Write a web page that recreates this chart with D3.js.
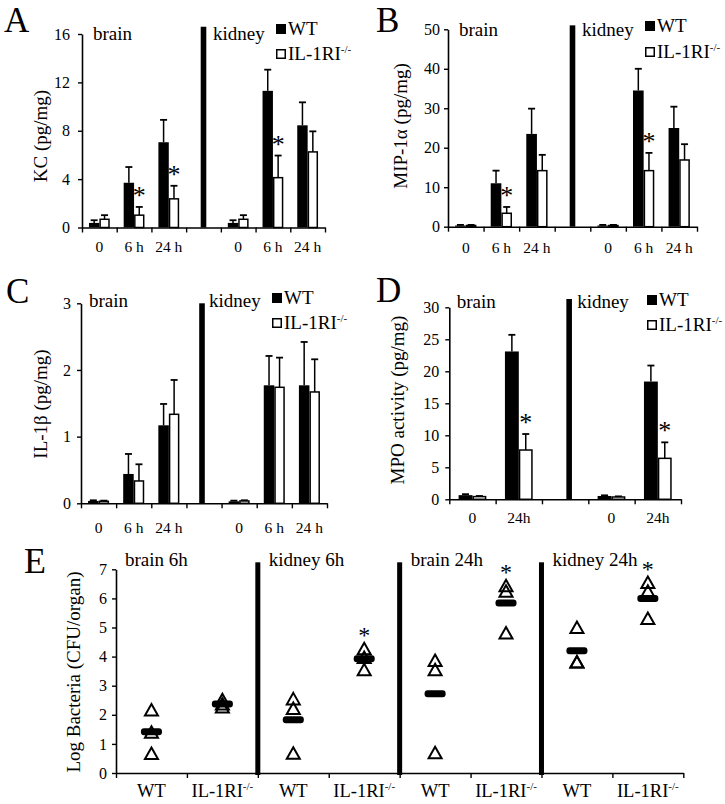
<!DOCTYPE html>
<html><head><meta charset="utf-8">
<script src="https://cdn.jsdelivr.net/npm/d3@7"></script>
<style>
body{margin:0;background:#fff;}
svg, svg text, svg tspan{font-family:"Liberation Serif","Times New Roman",Tinos,"DejaVu Serif",serif !important;}
svg text{fill:#000;}
</style></head><body>
<svg id="chart" width="725" height="804" font-family="Liberation Serif, Times New Roman, serif"></svg>
<script>
// ---------- DATA ----------
const organs = ["brain", "kidney"];
const timesABC = ["0", "6 h", "24 h"];
const timesD = ["0", "24h"];
const legendLabels = ["WT", "IL-1RI"];
const koSup = "-/-";

// Panel A: KC (pg/mg)  order: brain 0, 6h, 24h, kidney 0, 6h, 24h
const kcWT     = [0.38, 3.7, 7.05, 0.38, 11.3, 8.45];
const kcWTerr  = [0.6, 5.0, 8.9, 0.6, 13.05, 10.35];
const kcKO     = [0.68, 1.02, 2.37, 0.68, 4.12, 6.25];
const kcKOerr  = [1.02, 1.7, 3.45, 1.02, 5.95, 7.95];
const kcStar   = [false, true, true, false, true, false];
const kcTicks  = [0, 4, 8, 12, 16];
const kcDivider = 16.6;

// Panel B: MIP-1α (pg/mg)
const mipWT    = [0.3, 11.0, 23.5, 0.3, 34.5, 25.0];
const mipWTerr = [0.45, 14.2, 29.9, 0.45, 40.0, 30.4];
const mipKO    = [0.3, 3.4, 14.2, 0.3, 14.2, 16.9];
const mipKOerr = [0.45, 5.0, 18.2, 0.45, 18.7, 20.9];
const mipStar  = [false, true, false, false, true, false];
const mipTicks = [0, 10, 20, 30, 40, 50];
const mipDivider = 51;

// Panel C: IL-1β (pg/mg)
const ilWT     = [0.035, 0.44, 1.17, 0.03, 1.77, 1.77];
const ilWTerr  = [0.045, 0.74, 1.49, 0.04, 2.21, 2.42];
const ilKO     = [0.03, 0.335, 1.335, 0.035, 1.74, 1.67];
const ilKOerr  = [0.04, 0.585, 1.85, 0.045, 2.185, 2.16];
const ilStar   = [false, false, false, false, false, false];
const ilTicks  = [0, 1, 2, 3];
const ilDivider = 3.0;

// Panel D: MPO activity (pg/mg)  order: brain 0, 24h, kidney 0, 24h
const mpoWT    = [0.65, 23.1, 0.52, 18.4];
const mpoWTerr = [0.8, 25.7, 0.62, 20.9];
const mpoKO    = [0.42, 7.7, 0.36, 6.4];
const mpoKOerr = [0.52, 10.2, 0.46, 8.9];
const mpoStar  = [false, true, false, true];
const mpoTicks = [0, 5, 10, 15, 20, 25, 30];
const mpoDivider = 31.3;

// Panel E: Log bacteria (CFU/organ)
const eGroups = ["brain 6h", "kidney 6h", "brain 24h", "kidney 24h"];
const eGenotypes = ["WT", "IL-1RI"];
const ePoints = [
  [2.15, 1.38, 0.65], [2.5, 2.35, 2.25],
  [2.53, 2.2, 0.66],  [4.25, 3.95, 3.53],
  [3.85, 3.53, 0.68], [6.42, 6.23, 4.79],
  [4.98, 3.8, 3.8],   [6.53, 6.23, 5.29]
];
const eMeans = [1.42, 2.37, 1.83, 3.93, 2.72, 5.84, 4.2, 6.0];
const eStar  = [false, false, false, true, false, true, false, true];
const eTicks = [0, 1, 2, 3, 4, 5, 6, 7];
const eDivider = 7.24;

// ---------- DRAWING ----------
const FONT = "Liberation Serif, Times New Roman, serif";
const svg = d3.select("#chart");

function txt(g) { return g.append("text").attr("font-family", FONT).attr("fill", "#000"); }

function koText(sel, size, supSize) {
  sel.append("tspan").text(legendLabels[1]);
  sel.append("tspan").attr("font-size", supSize).attr("dy", -size * 0.38).text(koSup);
}

function yAxis(g, y, x0, ticks, pad, fs) {
  const ax = g.append("g").attr("transform", `translate(${x0},0)`)
    .call(d3.axisLeft(y).tickValues(ticks).tickFormat(d3.format("d")).tickSize(4).tickSizeOuter(0).tickPadding(pad));
  ax.attr("font-family", FONT);
  ax.select(".domain").attr("stroke", "#000").attr("stroke-width", 1.6);
  ax.selectAll(".tick line").attr("stroke", "#000").attr("stroke-width", 1.4);
  ax.selectAll("text").attr("font-size", fs).attr("font-family", FONT).attr("fill", "#000");
}

function xAxis(g, n, x0, x1, yb) {
  const lin = d3.scaleLinear().domain([0, n]).range([x0, x1]);
  const ax = g.append("g").attr("transform", `translate(0,${yb})`)
    .call(d3.axisBottom(lin).tickValues(d3.range(n + 1)).tickFormat("").tickSize(5).tickSizeOuter(0));
  ax.select(".domain").attr("stroke", "#000").attr("stroke-width", 1.6);
  ax.selectAll(".tick line").attr("stroke", "#000").attr("stroke-width", 1.4);
  return lin;
}

function legend(g, lx, ly1, ly2) {
  g.append("rect").attr("x", lx).attr("y", ly1 - 11).attr("width", 10).attr("height", 10).attr("fill", "#000");
  txt(g).attr("x", lx + 12).attr("y", ly1).attr("font-size", 19).text(legendLabels[0]);
  g.append("rect").attr("x", lx + 0.75).attr("y", ly2 - 10.25).attr("width", 8.5).attr("height", 8.5)
    .attr("fill", "#fff").attr("stroke", "#000").attr("stroke-width", 1.5);
  const t = txt(g).attr("x", lx + 12).attr("y", ly2).attr("font-size", 19);
  koText(t, 19, 11);
}

function barPanel(p) {
  const g = svg.append("g");
  const n = p.times.length * 2 + 1;
  const sepIdx = p.times.length;
  const cats = d3.range(n);
  const x = d3.scaleBand().domain(cats).range([p.x0, p.x1]).padding(0);
  const inner = d3.scaleBand().domain(["WT", "KO"]).range([0, x.bandwidth()]).paddingInner(0).paddingOuter(0.67);
  const y = d3.scaleLinear().domain([0, p.ticks[p.ticks.length - 1]]).range([p.yb, p.yt]);

  const rows = [];
  p.wt.forEach((v, i) => {
    const c = i < sepIdx ? i : i + 1;
    rows.push({c, g: "WT", v, e: p.wtErr[i], star: false});
    rows.push({c, g: "KO", v: p.ko[i], e: p.koErr[i], star: p.star[i]});
  });

  const cap = 7;
  rows.forEach(r => {
    const cx = x(r.c) + inner(r.g) + inner.bandwidth() / 2;
    g.append("line").attr("x1", cx).attr("x2", cx).attr("y1", y(r.v)).attr("y2", y(r.e))
      .attr("stroke", "#000").attr("stroke-width", 1.5);
    g.append("line").attr("x1", cx - cap / 2).attr("x2", cx + cap / 2).attr("y1", y(r.e)).attr("y2", y(r.e))
      .attr("stroke", "#000").attr("stroke-width", 1.8);
  });
  g.selectAll("rect.bar").data(rows).join("rect").attr("class", "bar")
    .attr("x", d => x(d.c) + inner(d.g) + (d.g === "KO" ? 0.75 : 0))
    .attr("width", d => inner.bandwidth() - (d.g === "KO" ? 1.5 : 0))
    .attr("y", d => y(d.v))
    .attr("height", d => y(0) - y(d.v))
    .attr("fill", d => d.g === "WT" ? "#000" : "#fff")
    .attr("stroke", "#000").attr("stroke-width", d => d.g === "KO" ? 1.5 : 0);
  rows.filter(r => r.star).forEach(r => {
    const cx = x(r.c) + inner(r.g) + inner.bandwidth() / 2;
    txt(g).attr("x", cx).attr("y", y(r.e) - 3).attr("text-anchor", "middle")
      .attr("font-size", 26).text("*");
  });
  const sx = x(sepIdx) + x.bandwidth() / 2 + (p.sepShift || 0);
  g.append("rect").attr("x", sx - 2.8).attr("width", 5.6).attr("y", y(p.divider)).attr("height", y(0) - y(p.divider))
    .attr("fill", "#000");

  yAxis(g, y, p.x0, p.ticks, p.tickPad, 16);
  xAxis(g, n, p.x0, p.x1, p.yb);

  cats.filter(c => c !== sepIdx).forEach(c => {
    const ti = c < sepIdx ? c : c - sepIdx - 1;
    txt(g).attr("x", x(c) + x.bandwidth() / 2).attr("y", p.labelY)
      .attr("text-anchor", "middle").attr("font-size", 15.5).text(p.times[ti]);
  });
  txt(g).attr("x", p.x0 + p.brainDx).attr("y", p.groupY).attr("font-size", 19).text(organs[0]);
  txt(g).attr("x", sx + p.kidneyDx).attr("y", p.groupY).attr("font-size", 19).text(organs[1]);
  legend(g, p.lx, p.ly1, p.ly2);
  txt(g).attr("transform", `translate(${p.tx},${p.ty}) rotate(-90)`)
    .attr("text-anchor", "middle").attr("dominant-baseline", "central").attr("font-size", 19).text(p.title);
  txt(g).attr("x", p.Lx).attr("y", p.Ly).attr("font-size", 35).text(p.letter);
}

barPanel({letter: "A", Lx: 4, Ly: 32, title: "KC (pg/mg)", tx: 40, ty: 136,
  times: timesABC, wt: kcWT, wtErr: kcWTerr, ko: kcKO, koErr: kcKOerr, star: kcStar,
  ticks: kcTicks, divider: kcDivider, x0: 82, x1: 325, yb: 227.5, yt: 34, tickPad: 8,
  labelY: 252, groupY: 40, brainDx: 11, kidneyDx: 9.5, lx: 276, ly1: 35, ly2: 60});

barPanel({letter: "B", Lx: 376, Ly: 32, title: "MIP-1α (pg/mg)", tx: 400, ty: 126,
  times: timesABC, wt: mipWT, wtErr: mipWTerr, ko: mipKO, koErr: mipKOerr, star: mipStar,
  ticks: mipTicks, divider: mipDivider, x0: 448, x1: 697, yb: 226.7, yt: 29.3, tickPad: 4,
  labelY: 253, groupY: 36, brainDx: 11, kidneyDx: 9.5, lx: 645, ly1: 32, ly2: 58});

barPanel({letter: "C", Lx: 6, Ly: 303, title: "IL-1β (pg/mg)", tx: 40, ty: 404,
  times: timesABC, wt: ilWT, wtErr: ilWTerr, ko: ilKO, koErr: ilKOerr, star: ilStar,
  ticks: ilTicks, divider: ilDivider, x0: 81, x1: 327, yb: 503.3, yt: 303.3, tickPad: 6,
  labelY: 533, groupY: 307, brainDx: 8, kidneyDx: 7, sepShift: -2, lx: 272, ly1: 304, ly2: 329});

barPanel({letter: "D", Lx: 376, Ly: 302, title: "MPO activity (pg/mg)", tx: 397, ty: 400,
  times: timesD, wt: mpoWT, wtErr: mpoWTerr, ko: mpoKO, koErr: mpoKOerr, star: mpoStar,
  ticks: mpoTicks, divider: mpoDivider, x0: 449.3, x1: 681, yb: 499.3, yt: 307.3, tickPad: 6,
  labelY: 523, groupY: 308, brainDx: 7.5, kidneyDx: 8, sepShift: 4, lx: 647, ly1: 306, ly2: 331});

// ---------- Panel E ----------
(function () {
  const g = svg.append("g");
  const x0 = 116, x1 = 683.3, yb = 773, yt = 569.3;
  const cats = [];
  eGroups.forEach((gr, gi) => eGenotypes.forEach((ge, k) => cats.push({gi, k, idx: gi * 2 + k})));
  const x = d3.scaleBand().domain(cats.map(c => c.idx)).range([x0, x1]).padding(0);
  const y = d3.scaleLinear().domain([0, 7]).range([yb, yt]);

  const lin = d3.scaleLinear().domain([0, cats.length]).range([x0, x1]);
  [1, 2, 3].forEach(gi => {
    const bx = lin(gi * 2);
    g.append("rect").attr("x", bx - 2.5).attr("width", 5).attr("y", y(eDivider)).attr("height", y(0) - y(eDivider) + 2)
      .attr("fill", "#000");
  });

  const tri = "M0,-6.5L6.5,5L-6.5,5Z";
  cats.forEach(c => {
    const cx = x(c.idx) + x.bandwidth() / 2;
    ePoints[c.idx].forEach(v => {
      g.append("path").attr("d", tri).attr("transform", `translate(${cx},${y(v)})`)
        .attr("fill", "none").attr("stroke", "#000").attr("stroke-width", 2).attr("stroke-linejoin", "miter");
    });
    g.append("rect").attr("x", cx - 10.5).attr("width", 21).attr("y", y(eMeans[c.idx]) - 3.5).attr("height", 7)
      .attr("rx", 3).attr("fill", "#000");
    if (eStar[c.idx]) {
      txt(g).attr("x", cx).attr("y", y(d3.max(ePoints[c.idx])) - 6).attr("text-anchor", "middle")
        .attr("font-size", 24).text("*");
    }
    const t = txt(g).attr("x", cx).attr("y", 797).attr("text-anchor", "middle").attr("font-size", 18.5);
    if (c.k === 0) t.text(eGenotypes[0]); else koText(t, 18.5, 11);
  });

  yAxis(g, y, x0, eTicks, 5, 16);
  xAxis(g, cats.length, x0, x1, yb);

  eGroups.forEach((gr, gi) => {
    txt(g).attr("x", lin(gi * 2) + (gi === 0 ? 9 : 11)).attr("y", 566).attr("font-size", 19).text(gr);
  });
  txt(g).attr("transform", `translate(73,672) rotate(-90)`)
    .attr("text-anchor", "middle").attr("dominant-baseline", "central").attr("font-size", 19)
    .text("Log Bacteria (CFU/organ)");
  txt(g).attr("x", 24).attr("y", 573).attr("font-size", 36).text("E");
})();
</script>
</body></html>
